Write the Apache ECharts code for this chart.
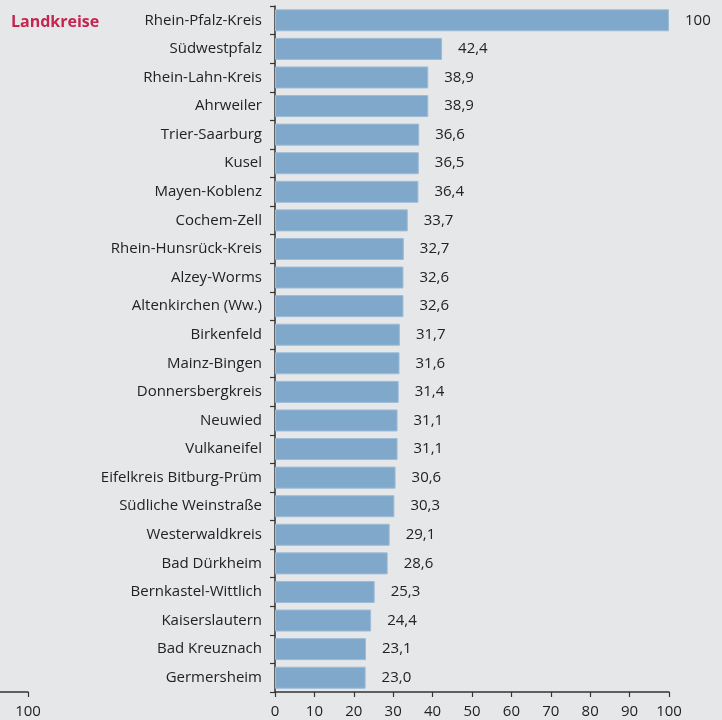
<!DOCTYPE html>
<html><head><meta charset="utf-8">
<script src="https://cdn.jsdelivr.net/npm/echarts@6/dist/echarts.min.js"></script>
<style>html,body{margin:0;padding:0;background:#e6e7e9}#c{width:722px;height:720px}</style>
</head><body><div id="c"></div>
<script>
const categories = ["Rhein-Pfalz-Kreis","Südwestpfalz","Rhein-Lahn-Kreis","Ahrweiler","Trier-Saarburg","Kusel","Mayen-Koblenz","Cochem-Zell","Rhein-Hunsrück-Kreis","Alzey-Worms","Altenkirchen (Ww.)","Birkenfeld","Mainz-Bingen","Donnersbergkreis","Neuwied","Vulkaneifel","Eifelkreis Bitburg-Prüm","Südliche Weinstraße","Westerwaldkreis","Bad Dürkheim","Bernkastel-Wittlich","Kaiserslautern","Bad Kreuznach","Germersheim"];
const values = [100,42.4,38.9,38.9,36.6,36.5,36.4,33.7,32.7,32.6,32.6,31.7,31.6,31.4,31.1,31.1,30.6,30.3,29.1,28.6,25.3,24.4,23.1,23.0];
const xTicks = [0,10,20,30,40,50,60,70,80,90,100];
const title = "Landkreise";

const font = "'Open Sans', 'Noto Sans', sans-serif";
const chart = echarts.init(document.getElementById('c'), null, {renderer:'canvas'});
chart.setOption({
  backgroundColor:'#e6e7e9',
  animation:false,
  title:{text:title,left:6,top:9,textStyle:{color:'#c4264f',fontSize:16,fontWeight:'bold',fontFamily:font}},
  grid:[
    {left:275,right:53,top:6,bottom:28,containLabel:false},
    {left:0,width:28,top:6,bottom:28,containLabel:false}
  ],
  xAxis:[
    {gridIndex:0,type:'value',min:xTicks[0],max:xTicks[xTicks.length-1],interval:10,
     axisLine:{show:true,lineStyle:{color:'#333',width:1.5}},
     axisTick:{show:true,length:5,lineStyle:{color:'#333',width:1.2}},
     axisLabel:{color:'#222',fontSize:15,fontFamily:font,margin:12},
     splitLine:{show:false}},
    {gridIndex:1,type:'value',min:90,max:100,interval:10,
     axisLine:{show:true,lineStyle:{color:'#333',width:1.5}},
     axisTick:{show:true,length:5,lineStyle:{color:'#333',width:1.2}},
     axisLabel:{color:'#222',fontSize:15,fontFamily:font,margin:12,showMinLabel:false,formatter:v=>v===90?'':String(v)},
     splitLine:{show:false}}
  ],
  yAxis:[
    {gridIndex:0,type:'category',data:categories,inverse:true,
     axisLine:{show:true,lineStyle:{color:'#333',width:1.5}},
     axisTick:{show:true,length:5,lineStyle:{color:'#333',width:1.2}},
     axisLabel:{color:'#222',fontSize:15,fontFamily:font,margin:13}},
    {gridIndex:1,type:'category',data:[],show:false}
  ],
  series:[{
    type:'bar',xAxisIndex:0,yAxisIndex:0,data:values,barCategoryGap:'23%',
    itemStyle:{color:'#7fa8cb',borderColor:'#9dbcd8',borderWidth:1},
    label:{show:true,position:'right',distance:16,color:'#222',fontSize:15,fontFamily:font,
      formatter:p=>p.value>=100?String(p.value):p.value.toFixed(1).replace('.',',')}
  }]
});
</script></body></html>
